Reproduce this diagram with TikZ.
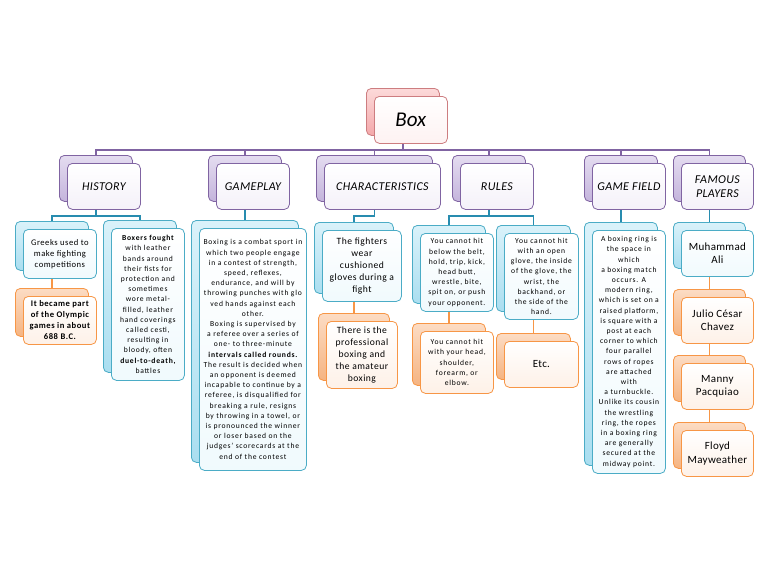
\documentclass[tikz,border=0pt]{standalone}
\usepackage{fontspec}
\setmainfont{Carlito}
\usetikzlibrary{calc,backgrounds}
\definecolor{roseline}{RGB}{205,125,128}
\definecolor{rosetop}{RGB}{252,218,218}
\definecolor{rosebot}{RGB}{244,168,170}
\definecolor{purpline}{RGB}{128,100,162}
\definecolor{lavtop}{RGB}{228,220,240}
\definecolor{lavbot}{RGB}{196,180,220}
\definecolor{cyanline}{RGB}{75,172,198}
\definecolor{cyantop}{RGB}{218,242,250}
\definecolor{cyanbot}{RGB}{170,222,240}
\definecolor{orgline}{RGB}{247,150,70}
\definecolor{orgtop}{RGB}{252,220,196}
\definecolor{orgbot}{RGB}{245,180,130}
\definecolor{tealline}{RGB}{40,140,175}
\tikzset{
  back/.style={draw, rounded corners=5pt, line width=0.8pt, anchor=north west, inner sep=0pt},
  front/.style={draw, rounded corners=5pt, line width=0.8pt, anchor=north west, inner sep=1pt, align=center},
  roseback/.style={back, draw=roseline, top color=rosetop, bottom color=rosebot},
  rosefront/.style={front, draw=roseline, top color=white, bottom color=rosetop!35},
  lavback/.style={back, draw=purpline, top color=lavtop, bottom color=lavbot},
  lavfront/.style={front, draw=purpline, top color=white, bottom color=lavtop!40},
  cyanback/.style={back, draw=cyanline, top color=cyantop, bottom color=cyanbot},
  cyanfront/.style={front, draw=cyanline, top color=white, bottom color=cyantop!40},
  orgback/.style={back, draw=orgline, top color=orgtop, bottom color=orgbot},
  orgfront/.style={front, draw=orgline, top color=white, bottom color=orgtop!40},
  titletxt/.style={font=\fontsize{21}{24}\selectfont\itshape},
  cattxt/.style={font=\fontsize{12}{14}\selectfont\itshape\addfontfeatures{LetterSpace=3}},
  tinytxt/.style={font=\fontsize{7.6}{10.2}\selectfont\addfontfeatures{LetterSpace=10}},
  midtxt/.style={font=\fontsize{8.6}{11}\selectfont\addfontfeatures{LetterSpace=6}},
  bigtxt/.style={font=\fontsize{9.6}{11.8}\selectfont\addfontfeatures{LetterSpace=5}},
  nametxt/.style={font=\fontsize{11}{13.5}\selectfont\addfontfeatures{LetterSpace=3}},
  treeline/.style={purpline, line width=1.5pt},
  subline/.style={tealline, line width=1.4pt},
  nextline/.style={orgline, line width=1.2pt},
}
% name, colour, font, x, y, width, height, text
\newcommand{\stackbox}[8]{%
  \node[#2back, minimum width=#6pt, minimum height=#7pt] (#1-b) at (#4,#5) {};
  \node[#2front, #3, minimum width=#6pt, minimum height=#7pt] (#1) at ($(#1-b.north west)+(8,8)$) {#8};
}

\begin{document}
\begin{tikzpicture}[x=1pt,y=-1pt]
  \useasboundingbox (0,0) rectangle (768,576);
  % Root
  \stackbox{box}{rose}{titletxt}{366}{88}{73}{47}{Box}
  % Categories
  \stackbox{hist}{lav}{cattxt}{59}{155}{73}{46}{HISTORY}
  \stackbox{game}{lav}{cattxt}{208}{155}{73}{46}{GAMEPLAY}
  \stackbox{char}{lav}{cattxt}{316}{155}{116}{46}{CHARACTERISTICS}
  \stackbox{rules}{lav}{cattxt}{452}{155}{73}{46}{RULES}
  \stackbox{field}{lav}{cattxt}{584}{155}{73}{46}{GAME FIELD}
  \stackbox{famous}{lav}{cattxt}{673}{155}{72}{46}{FAMOUS\\PLAYERS}
  % History
  \stackbox{greeks}{cyan}{midtxt}{15}{221}{73}{49}{Greeks used to\\make fighting\\competitions}
  \stackbox{olympic}{org}{midtxt}{15}{288}{73}{48}{\bfseries It became part\\\bfseries of the Olympic\\\bfseries games in about\\\bfseries 688 B.C.}
  \stackbox{boxers}{cyan}{tinytxt}{103}{220}{73}{152}{\bfseries Boxers fought\\with leather\\bands around\\their fists for\\protection and\\sometimes\\wore metal-\\filled, leather\\hand coverings\\called cesti,\\resulting in\\bloody, often\\\bfseries duel-to-death,\\battles}
  % Gameplay
  \stackbox{rounds}{cyan}{tinytxt}{191}{220}{107}{242}{Boxing is a combat sport in\\which two people engage\\in a contest of strength,\\speed, reflexes,\\endurance, and will by\\throwing punches with glo\\ved hands against each\\other.\\Boxing is supervised by\\a referee over a series of\\one- to three-minute\\\bfseries intervals called rounds.\\The result is decided when\\an opponent is deemed\\incapable to continue by a\\referee, is disqualified for\\breaking a rule, resigns\\by throwing in a towel, or\\is pronounced the winner\\or loser based on the\\judges' scorecards at the\\end of the contest}
  % Characteristics
  \stackbox{gloves}{cyan}{bigtxt}{314}{222}{79}{71}{The fighters\\wear\\cushioned\\gloves during a\\fight}
  \stackbox{amateur}{org}{bigtxt}{318}{313}{71}{67}{There is the\\professional\\boxing and\\the amateur\\boxing}
  % Rules
  \stackbox{belt}{cyan}{tinytxt}{412}{225}{73}{78}{You cannot hit\\below the belt,\\hold, trip, kick,\\head butt,\\wrestle, bite,\\spit on, or push\\your opponent.}
  \stackbox{glove}{cyan}{tinytxt}{496}{225}{74}{86}{You cannot hit\\with an open\\glove, the inside\\of the glove, the\\wrist, the\\backhand, or\\the side of the\\hand.}
  \stackbox{elbow}{org}{tinytxt}{412}{323}{73}{62}{You cannot hit\\with your head,\\shoulder,\\forearm, or\\elbow.}
  \stackbox{etc}{org}{nametxt}{496}{333}{74}{46}{Etc.}
  % Game field
  \stackbox{ring}{cyan}{tinytxt}{584}{222}{73}{243}{A boxing ring is\\the space in\\which\\a boxing match\\occurs. A\\modern ring,\\which is set on a\\raised platform,\\is square with a\\post at each\\corner to which\\four parallel\\rows of ropes\\are attached\\with\\a turnbuckle.\\Unlike its cousin\\the wrestling\\ring, the ropes\\in a boxing ring\\are generally\\secured at the\\midway point.}
  % Famous players
  \stackbox{ali}{cyan}{nametxt}{673}{222}{72}{46}{Muhammad\\Ali}
  \stackbox{chavez}{org}{nametxt}{673}{289}{72}{46}{Julio César\\Chavez}
  \stackbox{manny}{org}{nametxt}{673}{355}{72}{46}{Manny\\Pacquiao}
  \stackbox{floyd}{org}{nametxt}{673}{422}{72}{46}{Floyd\\Mayweather}
  % Connectors
  \begin{scope}[on background layer]
    \fill[white] (0,0) rectangle (768,576);
    \foreach \c in {hist,game,char,rules,field,famous}
      \draw[treeline] (box-b.south) -- ++(0,14) -| (\c-b.north);
    \foreach \p/\c in {hist/greeks,hist/boxers,game/rounds,char/gloves,rules/belt,rules/glove,field/ring,famous/ali}
      \draw[subline] (\p-b.south) -- ++(0,14) -| (\c-b.north);
    \foreach \p/\c in {greeks/olympic,gloves/amateur,belt/elbow,glove/etc,ali/chavez,chavez/manny,manny/floyd}
      \draw[nextline] (\p-b.south) -- (\c-b.north);
  \end{scope}
\end{tikzpicture}
\end{document}
